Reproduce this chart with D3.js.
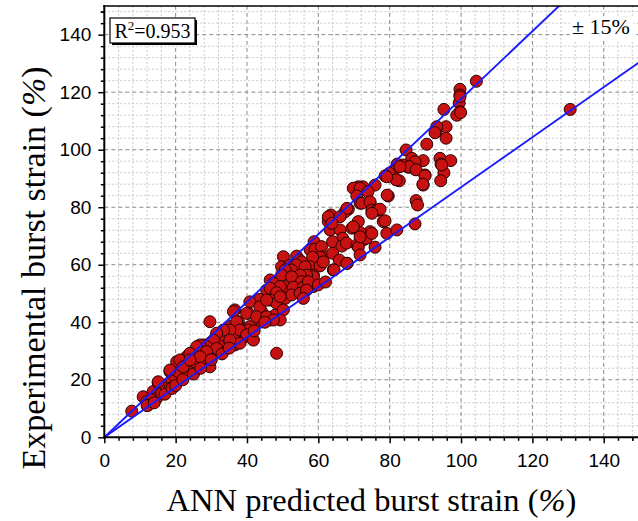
<!DOCTYPE html>
<html>
<head>
<meta charset="utf-8">
<script src="https://cdn.jsdelivr.net/npm/d3@7"></script>
<style>
html,body{margin:0;padding:0;background:#fff;}
svg{display:block;}
</style>
</head>
<body>
<svg id="chart" width="638" height="521"></svg>
<script>
// ---- data ----
const xTitle = "ANN predicted burst strain (";
const yTitle = "Experimental burst strain (";
const r2Label = "0.953";
const bandLabel = "± 15%";
// bounds y = x/(1-0.15) and y = x/(1+0.15)
const bandFactors = [1 / 0.85, 1 / 1.15];
const majorTicks = [0, 20, 40, 60, 80, 100, 120, 140];
const axisDomain = [0, 150];

const predicted = [
104.3,99.7,99.7,99.5,99.7,98.8,95.2,95.8,93,93.2,92.7,95.8,90.4,84.6,86.2,89.4,94.1,97.1,94.4,95.2,89.9,94.3,82.7,89.4,87.1,85.2,83.7,82.1,81,79.9,78.7,75.9,72.5,99.7,99.9,130.6,87.1,85.5,87.4,82.9,94.6,89.9,89.3,79.6,87.4,87.8,87.1,78.2,
81.8,79.2,71.2,69.8,71.7,73.9,70.8,79.3,71.7,74.5,75.6,76.8,68.4,67.5,63.5,78.7,62.8,71.2,63.3,66.1,69.4,74.5,79.2,82,71.7,72.6,73.5,66.8,64,66.6,67.9,70.8,71.2,75.9,58.8,57.7,59.1,60.9,61.4,60.5,58.4,64,65.9,68.1,64.2,50.2,53.9,54.7,49.7,52.1,55.3,57.7,60.5,51.1,55.8,58.6,53,
68,72.2,74.5,75,76.4,77.3,62.8,66.1,63.8,75,71.7,75,69.8,64.4,68,71.7,61.4,58.6,55.8,53,55.8,58.6,50.7,
55.3,53.9,52.5,50.7,49.7,56.3,56.7,54.9,52.5,55.3,53,55.8,57.2,46.5,47.4,49.3,45.5,46.5,48.3,43.6,46.5,48.3,50.7,52.5,54.9,56.7,55.8,40.8,40.4,44.1,44.6,44.1,46.5,47.9,50.2,49.3,36.6,37.6,29.6,33.8,35.3,37.1,39.9,40.8,38.5,31.5,33.4,35.2,37.1,29.6,32,26.8,28.7,32.4,34.8,48.3,39.4,36.6,
7.7,10.9,11.9,13.7,15.1,14.7,16.1,13.3,18.4,17,18.9,19.8,21.2,22.1,20.7,23.1,18.4,23.1,24.5,25.9,26.8,27.8,29.6,31,32,33.4,34.3,30.6,28.7,26.8,29.6,36.2,36.6,
36.2,37.1,39.9,40.4,38,35.2,33.4,31.5,30.6,28.7,26.8,20.3,18.4,21.2,25.9,24,22.1,25.9,15.1,12.3,43.6,45.5,49.3,42.7,45.5,47.4,39.9,41.8,38,35.2,31.5,28.7,26.8,24,
12,14,17,19,20,22,25,27,30,33,35,42,45,60,62
];
const experimental = [
123.8,121,119,116.3,113.2,112,114,108,106.3,108,105.9,104,101.9,99.9,97,96.2,97,96.2,95,92,91.2,89.2,89.2,87.7,93.2,93.9,94.7,95,92.4,91.8,90.9,87.7,87.1,118.4,112.9,114,95.8,94.1,93,94.1,94.7,90.9,88,83.9,82.3,80.8,74.2,75,
89.5,90.6,87.1,86.6,86.6,85.4,83.9,84.2,81.4,81.4,79,79,79.3,78.4,77.3,75.3,75,75,72.1,72.1,72.7,71.5,70.9,72.1,71.2,68.6,69.2,69.2,68,66.5,67.5,66.9,66.1,66.1,68,65.2,65.4,66.3,62.8,62.6,62.6,64,61.6,60.5,58.2,62.8,63,61.6,59.3,59.9,59.6,59.3,59.6,57,56.4,56.4,58.2,
79.6,81.4,81.9,79,79,79.3,76.7,76.7,74.4,77.9,69.7,70.9,73.2,58.2,60.5,63.4,61,55.8,55.8,51.2,51.8,52.4,52.4,
61,59.9,58.2,58.2,56.4,59.3,56.4,56.4,55.8,54.1,52.2,52.2,54.1,54.7,53.5,52.4,51.2,51.8,50.3,48,47.7,46.6,48.3,49.5,50.1,51.2,48.3,47.1,43.1,43.7,41.4,40.2,40.8,42.5,44.3,40.8,44.3,40.2,40.2,37.3,38.5,37.9,37.3,38.5,36.7,35,34.4,33.8,33.2,32.1,32.1,30.4,30.4,30.4,31.5,29.2,35,36.2,
9.1,14.1,12.4,15.9,19,13.6,15.3,13,22.8,18.2,19.9,21.1,24.5,25.7,22.8,23.4,17,28,26.9,30.9,29.2,32.1,32.7,33.8,32.1,35.6,36.7,30.4,25.7,25.7,24.5,35,32.1,
43.7,40.2,43.1,37.3,37.3,37.3,37.3,36.2,33.8,31.5,32.1,26.3,23.4,26.9,31.5,29.2,24.5,25.7,19.3,11.2,45.4,47.7,48.9,41.9,41.9,40.8,35.6,33.8,32.7,33.8,30.9,29.8,28,26.9,
11,12,15,17,18,20,22,24,27,29,31,37,40,53,54
];

// ---- chart ----
const svg = d3.select("#chart");
const L = 104.3, R = 639.4, T = 5.9, B = 437.3;
const x = d3.scaleLinear().domain(axisDomain).range([L, R]);
const y = d3.scaleLinear().domain(axisDomain).range([B, T]);

const minorTicks = d3.range(0, 150, 4).filter(v => v % 20 !== 0);

// grid
const grid = svg.append("g");
grid.selectAll(".mvx").data(minorTicks).join("line")
  .attr("x1", d => x(d)).attr("x2", d => x(d)).attr("y1", T).attr("y2", B)
  .attr("stroke", "#c8c8c8").attr("stroke-width", 1).attr("stroke-dasharray", "2,2");
grid.selectAll(".mhy").data(minorTicks).join("line")
  .attr("y1", d => y(d)).attr("y2", d => y(d)).attr("x1", L).attr("x2", R)
  .attr("stroke", "#c8c8c8").attr("stroke-width", 1).attr("stroke-dasharray", "2,2");
grid.selectAll(".Mvx").data(majorTicks.slice(1)).join("line")
  .attr("x1", d => x(d)).attr("x2", d => x(d)).attr("y1", T).attr("y2", B)
  .attr("stroke", "#8a8a8a").attr("stroke-width", 1).attr("stroke-dasharray", "4,3");
grid.selectAll(".Mhy").data(majorTicks.slice(1)).join("line")
  .attr("y1", d => y(d)).attr("y2", d => y(d)).attr("x1", L).attr("x2", R)
  .attr("stroke", "#8a8a8a").attr("stroke-width", 1).attr("stroke-dasharray", "4,3");

// points
const pts = predicted.map((p, i) => [p, experimental[i]]);
svg.append("g").selectAll("circle").data(pts).join("circle")
  .attr("cx", d => x(d[0])).attr("cy", d => y(d[1])).attr("r", 6)
  .attr("fill", "#c81212").attr("stroke", "#2a0000").attr("stroke-width", 1);

// band lines
svg.append("defs").append("clipPath").attr("id", "clip")
  .append("rect").attr("x", L).attr("y", T).attr("width", R - L).attr("height", B - T);
const lineG = svg.append("g").attr("clip-path", "url(#clip)");
bandFactors.forEach(f => {
  lineG.append("line")
    .attr("x1", x(0)).attr("y1", y(0))
    .attr("x2", x(150)).attr("y2", y(150 * f))
    .attr("stroke", "#1a1aff").attr("stroke-width", 1.9);
});

// axes
const fontTick = "'Liberation Sans', Arial, sans-serif";
const xMinor = d3.axisBottom(x).tickValues(minorTicks.concat([148])).tickSize(3.5).tickFormat("");
const xMajor = d3.axisBottom(x).tickValues(majorTicks).tickSize(6).tickPadding(10).tickFormat(d3.format("d"));
const yMinor = d3.axisLeft(y).tickValues(minorTicks.concat([148])).tickSize(3.5).tickFormat("");
const yMajor = d3.axisLeft(y).tickValues(majorTicks).tickSize(6).tickPadding(7).tickFormat(d3.format("d"));

function styleAxis(g) {
  g.select(".domain").remove();
  g.selectAll(".tick line").attr("stroke", "#000").attr("stroke-width", 1.5);
  g.selectAll("text").attr("fill", "#000").style("font-family", fontTick).style("font-size", "19px");
}
svg.append("g").attr("transform", `translate(0,${B})`).call(xMinor).call(styleAxis);
svg.append("g").attr("transform", `translate(0,${B})`).call(xMajor).call(styleAxis);
svg.append("g").attr("transform", `translate(${L},0)`).call(yMinor).call(styleAxis);
svg.append("g").attr("transform", `translate(${L},0)`).call(yMajor).call(styleAxis);

// frame
svg.append("line").attr("x1", L).attr("x2", L).attr("y1", T - 1).attr("y2", B + 1).attr("stroke", "#000").attr("stroke-width", 2);
svg.append("line").attr("x1", L - 1).attr("x2", R).attr("y1", B).attr("y2", B).attr("stroke", "#000").attr("stroke-width", 2);
svg.append("line").attr("x1", L - 1).attr("x2", R).attr("y1", T).attr("y2", T).attr("stroke", "#000").attr("stroke-width", 1.5);
svg.append("line").attr("x1", R).attr("x2", R).attr("y1", T).attr("y2", B).attr("stroke", "#000").attr("stroke-width", 1.5);

// titles
const serif = "'Liberation Serif', 'Times New Roman', serif";
const xt = svg.append("text").attr("x", 371.5).attr("y", 511).attr("text-anchor", "middle")
  .style("font-family", serif).style("font-size", "32.5px").attr("fill", "#000");
xt.append("tspan").text(xTitle);
xt.append("tspan").style("font-style", "italic").text("%");
xt.append("tspan").text(")");

const yt = svg.append("text").attr("transform", `translate(45,268) rotate(-90)`).attr("text-anchor", "middle")
  .style("font-family", serif).style("font-size", "34px").attr("fill", "#000");
yt.append("tspan").text(yTitle);
yt.append("tspan").style("font-style", "italic").text("%");
yt.append("tspan").text(")");

// R2 box
svg.append("rect").attr("x", 112).attr("y", 20).attr("width", 85).attr("height", 25).attr("fill", "#000");
svg.append("rect").attr("x", 110).attr("y", 18).attr("width", 85).attr("height", 25).attr("fill", "#fff").attr("stroke", "#000").attr("stroke-width", 1.2);
const rt = svg.append("text").attr("x", 152.5).attr("y", 38).attr("text-anchor", "middle")
  .style("font-family", serif).style("font-size", "20px").attr("fill", "#000");
rt.append("tspan").text("R");
rt.append("tspan").attr("dy", -8).style("font-size", "13px").text("2");
rt.append("tspan").attr("dy", 8).text("=" + r2Label);

// band label
svg.append("rect").attr("x", 570).attr("y", 16).attr("width", 63).attr("height", 24).attr("fill", "#fff");
svg.append("text").attr("x", 601).attr("y", 34).attr("text-anchor", "middle")
  .style("font-family", serif).style("font-size", "22px").attr("fill", "#000").text(bandLabel);
</script>
</body>
</html>
